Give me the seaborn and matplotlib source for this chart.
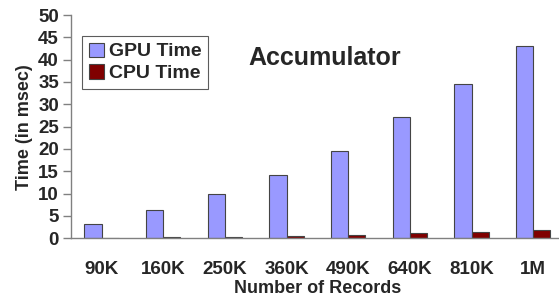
import matplotlib
matplotlib.use("Agg")
import matplotlib.pyplot as plt
import seaborn as sns
import pandas as pd
from matplotlib.ticker import MultipleLocator, FixedLocator

records = ["90K", "160K", "250K", "360K", "490K", "640K", "810K", "1M"]
gpu_time = [3.3, 6.3, 9.9, 14.1, 19.6, 27.2, 34.6, 43.1]
cpu_time = [0.1, 0.2, 0.35, 0.55, 0.8, 1.1, 1.4, 1.75]
series = ["GPU Time", "CPU Time"]
colors = ["#9999FF", "#800000"]

df = pd.DataFrame({
    "Records": records * 2,
    "Time": gpu_time + cpu_time,
    "Series": [series[0]] * len(records) + [series[1]] * len(records),
})

sns.set_style("white")
plt.rcParams["font.family"] = ["Liberation Sans", "DejaVu Sans"]
plt.rcParams["font.weight"] = "bold"

fig = plt.figure(figsize=(5.59, 2.99), dpi=100)
ax = fig.add_axes([70.7 / 559, (299 - 238.3) / 299, (564 - 70.7) / 559, (238.3 - 15) / 299])

sns.barplot(data=df, x="Records", y="Time", hue="Series", order=records,
            hue_order=series, palette=colors, width=0.56, edgecolor="#444444",
            linewidth=0.8, saturation=1, ax=ax)

ax.set_xlim(-0.5, len(records) - 0.5)
ax.set_ylim(0, 50)
ax.yaxis.set_major_locator(MultipleLocator(5))
ax.xaxis.set_minor_locator(FixedLocator([i - 0.5 for i in range(len(records) + 1)]))
ax.tick_params(axis="x", which="major", length=0, pad=16, labelsize=13.5)
ax.tick_params(axis="x", which="minor", length=5, color="#808080", direction="out", width=1)
ax.tick_params(axis="y", which="major", length=5.5, color="#808080", direction="out", width=1, labelsize=13.5, pad=3)
ax.tick_params(left=True, bottom=True)
for lab in ax.get_xticklabels() + ax.get_yticklabels():
    lab.set_fontweight("bold")

for s in ["top", "right"]:
    ax.spines[s].set_visible(False)
for s in ["left", "bottom"]:
    ax.spines[s].set_color("#808080")
    ax.spines[s].set_linewidth(1)

ax.set_xlabel("Number of Records", fontsize=13, fontweight="bold", labelpad=2)
ax.set_ylabel("Time (in msec)", fontsize=13, fontweight="bold", labelpad=4)

fig.text(325 / 559, 1 - 58 / 299, "Accumulator", fontsize=18, fontweight="bold",
         ha="center", va="center")

leg = ax.legend(loc="upper left", bbox_to_anchor=(81.7 / 559, 1 - 35.7 / 299),
                bbox_transform=fig.transFigure, frameon=True, fancybox=False,
                fontsize=14, handlelength=0.8, handleheight=0.75, handletextpad=0.25,
                borderpad=0.35, labelspacing=0.2, borderaxespad=0)
leg.get_frame().set_edgecolor("#333333")
leg.get_frame().set_linewidth(0.8)
for t in leg.get_texts():
    t.set_fontweight("bold")

fig.savefig("out.png", dpi=100)
